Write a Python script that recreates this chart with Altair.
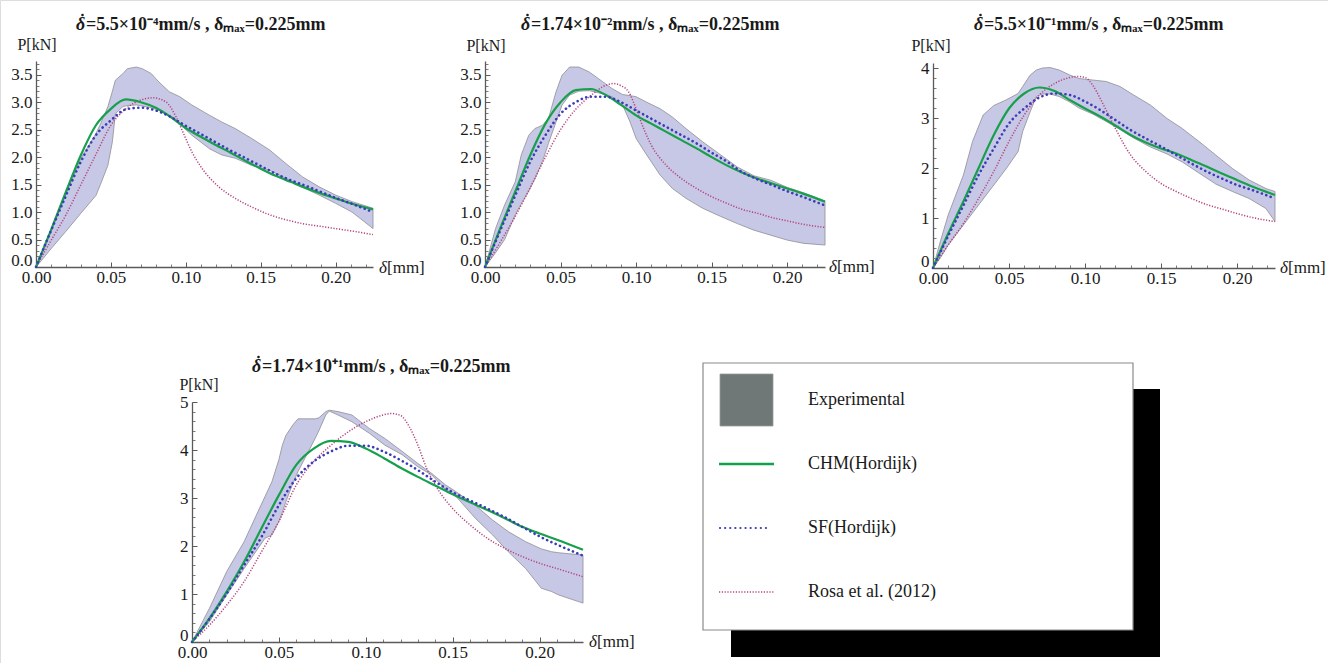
import altair as alt
import pandas as pd

W, H = 1328, 663
SERIF = "Liberation Serif"
BAND_FILL = "#c7c8e5"
BAND_EDGE = "#8e8e96"
GREEN = "#17a04b"
BLUE = "#3b3db8"
PINK = "#b4437e"
AXC = "#5a5a5a"
TXT = "#1a1a1a"

# ---------------- data ----------------
CX = [0, 0.01, 0.02, 0.03, 0.04, 0.05, 0.06, 0.07, 0.08, 0.09, 0.10, 0.11,
      0.12, 0.13, 0.14, 0.15, 0.16, 0.17, 0.18, 0.19, 0.20, 0.21, 0.225]

# panel 1
B1X = [0, 0.01, 0.02, 0.03, 0.04, 0.043, 0.048, 0.051, 0.053, 0.058, 0.061, 0.067, 0.071, 0.077, 0.082,
       0.089, 0.096, 0.104, 0.116, 0.124, 0.133, 0.144, 0.156, 0.167, 0.178, 0.189, 0.2, 0.211, 0.225]
B1U = [0, 0.66, 1.33, 1.98, 2.43, 2.6, 2.92, 3.2, 3.4, 3.52, 3.61, 3.64, 3.61, 3.52, 3.37,
       3.19, 3.1, 2.95, 2.76, 2.64, 2.52, 2.34, 2.13, 1.88, 1.64, 1.46, 1.31, 1.19, 1.07]
B1L = [0, 0.33, 0.65, 0.98, 1.3, 1.5, 1.85, 2.28, 2.79, 2.92, 2.94, 2.95, 2.93, 2.9, 2.85,
       2.75, 2.6, 2.4, 2.15, 2.04, 1.98, 1.85, 1.76, 1.61, 1.45, 1.31, 1.16, 1.0, 0.7]
G1 = [0, 0.67, 1.37, 2.04, 2.58, 2.88, 3.05, 3.0, 2.9, 2.73, 2.53, 2.37, 2.22, 2.08, 1.93, 1.79,
      1.66, 1.55, 1.44, 1.34, 1.25, 1.16, 1.05]
S1 = [0, 0.66, 1.3, 1.92, 2.4, 2.67, 2.87, 2.9, 2.85, 2.73, 2.57, 2.42, 2.27, 2.12, 1.98, 1.84,
      1.7, 1.58, 1.48, 1.37, 1.26, 1.16, 1.0]
R1X = [0, 0.01, 0.02, 0.03, 0.04, 0.05, 0.06, 0.07, 0.078, 0.087, 0.093, 0.098, 0.104, 0.111,
       0.122, 0.133, 0.145, 0.156, 0.167, 0.178, 0.19, 0.2, 0.212, 0.225]
R1 = [0, 0.48, 0.95, 1.5, 2.05, 2.58, 2.88, 3.04, 3.08, 3.0, 2.76, 2.46, 2.1, 1.79,
      1.46, 1.25, 1.08, 0.95, 0.86, 0.79, 0.74, 0.7, 0.65, 0.59]

# panel 2
B2X = [0, 0.007, 0.013, 0.02, 0.024, 0.029, 0.033, 0.038, 0.042, 0.047, 0.051, 0.056, 0.062, 0.069,
       0.078, 0.084, 0.091, 0.096, 0.1, 0.107, 0.116, 0.124, 0.133, 0.144, 0.156, 0.167, 0.178,
       0.189, 0.2, 0.211, 0.225]
B2U = [0, 0.7, 1.13, 1.55, 2.04, 2.4, 2.52, 2.58, 2.7, 3.19, 3.49, 3.64, 3.64, 3.55,
       3.37, 3.25, 3.14, 3.12, 3.1, 3.0, 2.88, 2.73, 2.52, 2.28, 2.04, 1.82, 1.66,
       1.58, 1.45, 1.35, 1.2]
B2L = [0, 0.26, 0.5, 0.95, 1.15, 1.38, 1.6, 1.92, 2.25, 2.64, 2.95, 3.13, 3.2, 3.21,
       3.15, 3.1, 2.95, 2.64, 2.34, 2.04, 1.67, 1.43, 1.25, 1.07, 0.92, 0.79, 0.67,
       0.58, 0.49, 0.43, 0.4]
G2 = [0, 0.7, 1.37, 2.04, 2.61, 3.0, 3.22, 3.24, 3.13, 2.95, 2.76, 2.61, 2.46, 2.31, 2.16, 2.0,
      1.85, 1.72, 1.61, 1.52, 1.43, 1.34, 1.19]
S2 = [0, 0.66, 1.3, 1.92, 2.4, 2.79, 3.0, 3.1, 3.1, 3.0, 2.85, 2.7, 2.55, 2.4, 2.25, 2.08,
      1.92, 1.73, 1.6, 1.49, 1.38, 1.28, 1.12]
R2X = [0, 0.01, 0.02, 0.03, 0.04, 0.05, 0.06, 0.07, 0.08, 0.085, 0.09, 0.095, 0.1, 0.105, 0.11,
       0.12, 0.13, 0.14, 0.15, 0.16, 0.17, 0.18, 0.19, 0.2, 0.21, 0.225]
R2 = [0, 0.45, 0.92, 1.45, 2.0, 2.5, 2.87, 3.12, 3.31, 3.34, 3.3, 3.19, 2.88, 2.52, 2.22,
      1.85, 1.61, 1.43, 1.28, 1.16, 1.05, 0.98, 0.9, 0.84, 0.78, 0.72]

# panel 3
B3X = [0, 0.005, 0.01, 0.02, 0.026, 0.033, 0.04, 0.048, 0.056, 0.059, 0.064, 0.068, 0.072, 0.077,
       0.083, 0.09, 0.096, 0.105, 0.114, 0.123, 0.132, 0.143, 0.154, 0.164, 0.175, 0.186, 0.197,
       0.208, 0.219, 0.225]
B3U = [0, 0.55, 1.06, 1.86, 2.53, 3.06, 3.25, 3.36, 3.49, 3.63, 3.86, 3.96, 4.0, 4.01,
       3.96, 3.86, 3.79, 3.76, 3.73, 3.63, 3.46, 3.26, 2.99, 2.79, 2.53, 2.26, 1.99,
       1.76, 1.59, 1.53]
B3L = [0, 0.21, 0.46, 0.86, 1.1, 1.38, 1.66, 1.98, 2.33, 2.73, 3.13, 3.43, 3.48, 3.48,
       3.43, 3.32, 3.2, 3.08, 2.93, 2.77, 2.6, 2.42, 2.28, 2.12, 1.9, 1.68, 1.53,
       1.39, 1.19, 0.93]
G3 = [0, 0.69, 1.33, 2.0, 2.66, 3.19, 3.49, 3.61, 3.54, 3.36, 3.19, 3.03, 2.85, 2.66, 2.51, 2.39,
      2.29, 2.16, 2.03, 1.89, 1.76, 1.63, 1.46]
S3 = [0, 0.64, 1.25, 1.86, 2.39, 2.89, 3.19, 3.41, 3.49, 3.46, 3.33, 3.16, 2.96, 2.76, 2.59, 2.43,
      2.26, 2.09, 1.93, 1.79, 1.66, 1.56, 1.39]
R3X = [0, 0.01, 0.02, 0.03, 0.04, 0.05, 0.06, 0.07, 0.08, 0.09, 0.095, 0.1, 0.105, 0.11, 0.115,
       0.12, 0.13, 0.14, 0.15, 0.16, 0.17, 0.18, 0.19, 0.2, 0.21, 0.225]
R3 = [0, 0.46, 0.89, 1.39, 1.93, 2.53, 3.06, 3.46, 3.69, 3.81, 3.83, 3.81, 3.66, 3.39, 3.09,
      2.79, 2.26, 1.93, 1.69, 1.53, 1.39, 1.27, 1.18, 1.09, 1.01, 0.93]

# panel 4
B4X = [0, 0.01, 0.02, 0.03, 0.038, 0.042, 0.046, 0.05, 0.052, 0.054, 0.058, 0.061, 0.065, 0.071,
       0.073, 0.077, 0.079, 0.084, 0.092, 0.102, 0.111, 0.121, 0.13, 0.138, 0.146, 0.152, 0.163,
       0.173, 0.182, 0.192, 0.201, 0.207, 0.211, 0.225]
B4U = [0, 0.7, 1.47, 2.09, 2.72, 3.03, 3.34, 3.8, 4.1, 4.3, 4.52, 4.65, 4.65, 4.65,
       4.67, 4.8, 4.83, 4.8, 4.73, 4.45, 4.24, 3.97, 3.72, 3.51, 3.27, 3.13, 2.85,
       2.54, 2.3, 2.09, 1.94, 1.88, 1.86, 1.81]
B4L = [0, 0.42, 0.98, 1.53, 1.95, 2.16, 2.23, 2.51, 2.7, 2.92, 3.3, 3.55, 3.83, 4.25,
       4.4, 4.73, 4.81, 4.73, 4.59, 4.35, 4.1, 3.9, 3.65, 3.48, 3.17, 3.03, 2.58,
       2.23, 1.88, 1.53, 1.12, 1.05, 0.98, 0.81]
G4 = [0, 0.49, 1.05, 1.67, 2.37, 3.06, 3.69, 4.03, 4.19, 4.17, 4.03, 3.84, 3.63, 3.44, 3.26, 3.08,
      2.91, 2.75, 2.58, 2.4, 2.26, 2.13, 1.92]
S4 = [0, 0.48, 1.01, 1.6, 2.19, 2.85, 3.41, 3.76, 3.97, 4.09, 4.09, 3.97, 3.79, 3.58, 3.34, 3.12,
      2.95, 2.78, 2.6, 2.4, 2.2, 2.03, 1.8]
R4X = [0, 0.01, 0.02, 0.03, 0.04, 0.05, 0.06, 0.07, 0.08, 0.09, 0.1, 0.11, 0.115, 0.12, 0.125,
       0.13, 0.135, 0.14, 0.15, 0.16, 0.17, 0.18, 0.19, 0.2, 0.21, 0.225]
R4 = [0, 0.35, 0.77, 1.26, 1.88, 2.51, 3.27, 3.76, 4.1, 4.38, 4.59, 4.73, 4.76, 4.72, 4.49,
      4.1, 3.62, 3.27, 2.78, 2.44, 2.16, 1.95, 1.78, 1.64, 1.53, 1.36]

TITLE_RESTS = [
    "=5.5\u00d710\u207b\u2074mm/s , \u03b4\u2098\u2090\u2093=0.225mm",
    "=1.74\u00d710\u207b\u00b2mm/s , \u03b4\u2098\u2090\u2093=0.225mm",
    "=5.5\u00d710\u207b\u00b9mm/s , \u03b4\u2098\u2090\u2093=0.225mm",
    "=1.74\u00d710\u207a\u00b9mm/s , \u03b4\u2098\u2090\u2093=0.225mm",
]
X_TICKS = [0.0, 0.05, 0.10, 0.15, 0.20]
LEGEND_LABELS = ["Experimental", "CHM(Hordijk)", "SF(Hordijk)", "Rosa et al. (2012)"]

PANELS = [
    dict(bx=B1X, bu=B1U, bl=B1L, g=G1, s=S1, rx=R1X, r=R1, x0=36, x1=373, y0=267, y1=61, ymax=3.75,
         yt=[0, 0.5, 1.0, 1.5, 2.0, 2.5, 3.0, 3.5], ystep=0.1, yfmt=".1f",
         title=TITLE_RESTS[0], tx=76, ty=25, px=37, py=45, dx=378, dy=268),
    dict(bx=B2X, bu=B2U, bl=B2L, g=G2, s=S2, rx=R2X, r=R2, x0=485, x1=825, y0=267, y1=61, ymax=3.75,
         yt=[0, 0.5, 1.0, 1.5, 2.0, 2.5, 3.0, 3.5], ystep=0.1, yfmt=".1f",
         title=TITLE_RESTS[1], tx=521, ty=25, px=486, py=46, dx=828, dy=267),
    dict(bx=B3X, bu=B3U, bl=B3L, g=G3, s=S3, rx=R3X, r=R3, x0=933, x1=1275, y0=268, y1=63, ymax=4.1,
         yt=[0, 1, 2, 3, 4], ystep=0.2, yfmt="d",
         title=TITLE_RESTS[2], tx=974, ty=25, px=931, py=46, dx=1279, dy=268),
    dict(bx=B4X, bu=B4U, bl=B4L, g=G4, s=S4, rx=R4X, r=R4, x0=192, x1=583, y0=642, y1=402, ymax=5.0,
         yt=[0, 1, 2, 3, 4, 5], ystep=0.2, yfmt="d",
         title=TITLE_RESTS[3], tx=252, ty=367, px=199, py=385, dx=588, dy=642),
]

ONE = pd.DataFrame({"a": [1]})


def txt(s, x, y, size=16, weight="normal", style="normal", align="center", baseline="middle",
        color=TXT, font=SERIF):
    return alt.Chart(pd.DataFrame({"t": [s]})).mark_text(
        font=font, fontSize=size, fontWeight=weight, fontStyle=style,
        align=align, baseline=baseline, color=color
    ).encode(text="t:N", x=alt.value(x), y=alt.value(y))


ZERO_UP = {"condition": {"test": "datum.value == 0", "value": -7}, "value": 0}

layers = []
for p in PANELS:
    xs = alt.Scale(domain=[0, 0.225], range=[p["x0"], p["x1"]], nice=False, zero=False)
    ys = alt.Scale(domain=[0, p["ymax"]], range=[p["y0"], p["y1"]], nice=False, zero=False)
    n_minor_y = int(round(p["ymax"] / p["ystep"]))
    minor_y = [round(i * p["ystep"], 2) for i in range(1, n_minor_y + 1)]
    minor_x = [round(i * 0.01, 2) for i in range(1, 23)]

    band_df = pd.DataFrame({"d": p["bx"], "hi": p["bu"], "lo": p["bl"]})
    band = alt.Chart(band_df).mark_area(
        fill=BAND_FILL, stroke=BAND_EDGE, strokeWidth=0.8, interpolate="linear"
    ).encode(
        x=alt.X("d:Q", scale=xs, axis=alt.Axis(
            orient="bottom", offset=p["y0"] - H, title=None, grid=False, ticks=False,
            domain=True, domainColor=AXC, domainWidth=1.3, values=X_TICKS, format=".2f",
            labelFont=SERIF, labelFontSize=17, labelColor=TXT, labelPadding=2,
            labelFlush=False, labelOverlap=False)),
        y=alt.Y("hi:Q", scale=ys, axis=alt.Axis(
            orient="left", offset=-p["x0"], title=None, grid=False, ticks=False,
            domain=True, domainColor=AXC, domainWidth=1.3, values=p["yt"], format=p["yfmt"],
            labelFont=SERIF, labelFontSize=17, labelColor=TXT, labelPadding=4,
            labelOffset=ZERO_UP, labelFlush=False, labelOverlap=False)),
        y2="lo:Q",
    )
    layers.append(band)

    rosa = alt.Chart(pd.DataFrame({"d": p["rx"], "v": p["r"]})).mark_line(
        color=PINK, strokeWidth=1.5, strokeDash=[1.2, 1.6], interpolate="monotone"
    ).encode(x=alt.X("d:Q", scale=xs, axis=None), y=alt.Y("v:Q", scale=ys, axis=None))
    layers.append(rosa)

    chm = alt.Chart(pd.DataFrame({"d": CX, "v": p["g"]})).mark_line(
        color=GREEN, strokeWidth=2.2, interpolate="monotone"
    ).encode(
        x=alt.X("d:Q", scale=xs, axis=alt.Axis(
            orient="top", offset=-p["y0"], title=None, grid=False, labels=False, domain=False,
            ticks=True, tickSize=5, tickColor=AXC, tickWidth=1, values=[0.05, 0.1, 0.15, 0.2])),
        y=alt.Y("v:Q", scale=ys, axis=alt.Axis(
            orient="right", offset=p["x0"] - W, title=None, grid=False, labels=False, domain=False,
            ticks=True, tickSize=5, tickColor=AXC, tickWidth=1, values=p["yt"][1:])),
    )
    layers.append(chm)

    sf = alt.Chart(pd.DataFrame({"d": CX, "v": p["s"]})).mark_line(
        color=BLUE, strokeWidth=2.6, strokeDash=[0.1, 4.6], strokeCap="round", interpolate="monotone"
    ).encode(
        x=alt.X("d:Q", scale=xs, axis=alt.Axis(
            orient="top", offset=-p["y0"], title=None, grid=False, labels=False, domain=False,
            ticks=True, tickSize=3, tickColor=AXC, tickWidth=0.8, values=minor_x)),
        y=alt.Y("v:Q", scale=ys, axis=alt.Axis(
            orient="right", offset=p["x0"] - W, title=None, grid=False, labels=False, domain=False,
            ticks=True, tickSize=3, tickColor=AXC, tickWidth=0.8, values=minor_y)),
    )
    layers.append(sf)

    # title: bold italic delta with a dot above it, then the rest
    layers.append(txt("\u03b4", p["tx"], p["ty"], size=18, weight="bold", style="italic", align="left"))
    layers.append(alt.Chart(ONE).mark_circle(color=TXT, opacity=1, size=7).encode(
        x=alt.value(p["tx"] + 6.5), y=alt.value(p["ty"] - 10)))
    layers.append(txt(p["title"], p["tx"] + 10, p["ty"], size=18, weight="bold", align="left"))
    layers.append(txt("P[kN]", p["px"], p["py"], size=16))
    layers.append(txt("\u03b4", p["dx"] + 9, p["dy"], size=17, style="italic", align="right"))
    layers.append(txt("[mm]", p["dx"] + 9, p["dy"], size=17, align="left"))

# ---------------- legend box ----------------
layers.append(alt.Chart(ONE).mark_rect(color="#000000").encode(
    x=alt.value(731), x2=alt.value(1160), y=alt.value(389), y2=alt.value(657)))
layers.append(alt.Chart(ONE).mark_rect(fill="#ffffff", stroke="#8a8a8a", strokeWidth=1.2).encode(
    x=alt.value(703), x2=alt.value(1133), y=alt.value(363), y2=alt.value(630)))
layers.append(alt.Chart(ONE).mark_rect(fill="#6f7777", stroke="#9a9a9a", strokeWidth=0.8).encode(
    x=alt.value(720), x2=alt.value(773), y=alt.value(374), y2=alt.value(426)))
layers.append(alt.Chart(ONE).mark_rule(color=GREEN, strokeWidth=2.4).encode(
    x=alt.value(719), x2=alt.value(774), y=alt.value(464)))
layers.append(alt.Chart(ONE).mark_rule(color=BLUE, strokeWidth=2.2, strokeDash=[0.1, 5.0], strokeCap="round").encode(
    x=alt.value(720), x2=alt.value(771), y=alt.value(528)))
layers.append(alt.Chart(ONE).mark_rule(color=PINK, strokeWidth=1.6, strokeDash=[1.2, 1.6]).encode(
    x=alt.value(719), x2=alt.value(775), y=alt.value(592)))
for lab, ly in zip(LEGEND_LABELS, [400, 464, 528, 592]):
    layers.append(txt(lab, 808, ly, size=18, align="left"))

chart = alt.layer(*layers).resolve_scale(
    x="independent", y="independent"
).resolve_axis(
    x="independent", y="independent"
).properties(
    width=W, height=H, autosize=alt.AutoSizeParams(type="none"), padding=0
).configure_view(strokeWidth=0).configure(background="#ffffff")

chart.save("out.html", embed_options={"renderer": "svg", "actions": False})
